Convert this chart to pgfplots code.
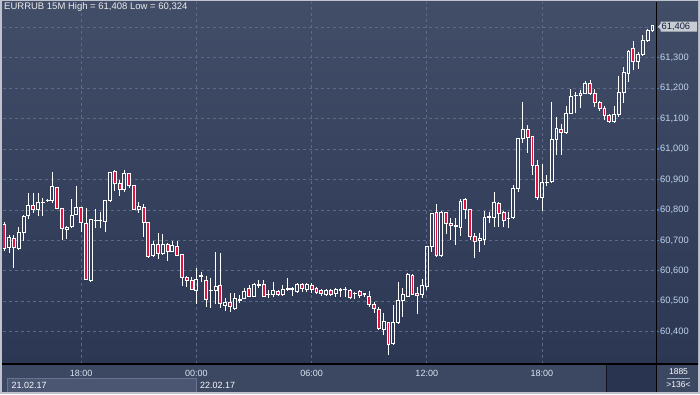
\documentclass[border=0pt]{standalone}
\usepackage{pgfplots}
\pgfplotsset{compat=1.18}
\usepackage{pgfplotstable}
\usepackage{fontspec}
\setmainfont{Liberation Sans}
\definecolor{framegray}{RGB}{190,195,205}
\definecolor{plottop}{RGB}{66,78,104}
\definecolor{plotbot}{RGB}{43,55,83}
\definecolor{stripbg}{RGB}{60,72,98}
\definecolor{datebox}{RGB}{74,86,114}
\definecolor{dateborder}{RGB}{105,116,140}
\definecolor{darkbox}{RGB}{40,52,80}
\definecolor{gridc}{RGB}{92,106,134}
\definecolor{labelc}{RGB}{195,212,236}
\definecolor{tickblue}{RGB}{60,130,210}
\definecolor{candlered}{RGB}{225,20,65}
\definecolor{pricebox}{RGB}{200,205,212}
\definecolor{pricetext}{RGB}{20,30,60}

\pgfplotstableread{
i o h l c
0 60753 60760 60665 60674
1 60677 60718 60660 60710
2 60706 60717 60608 60677
3 60674 60745 60668 60727
4 60727 60783 60699 60780
5 60783 60857 60769 60815
6 60815 60855 60791 60802
7 60802 60855 60780 60824
8 60825 60840 60780 60826
9 60830 60835 60825 60831
10 60830 60923 60822 60877
11 60874 60876 60802 60805
12 60805 60805 60701 60740
13 60736 60748 60705 60743
14 60745 60835 60740 60783
15 60786 60879 60786 60808
16 60808 60811 60729 60759
17 60756 60808 60573 60573
18 60570 60771 60562 60769
19 60765 60802 60740 60766
20 60765 60794 60740 60766
21 60761 60833 60729 60830
22 60830 60926 60827 60922
23 60925 60931 60863 60887
24 60887 60898 60847 60868
25 60868 60931 60860 60920
26 60920 60920 60871 60880
27 60882 60882 60800 60802
28 60802 60825 60791 60813
29 60807 60818 60712 60759
30 60759 60759 60643 60646
31 60650 60698 60646 60687
32 60687 60723 60638 60657
33 60657 60721 60651 60687
34 60687 60690 60633 60665
35 60665 60698 60663 60684
36 60681 60698 60650 60650
37 60654 60654 60550 60579
38 60579 60583 60546 60570
39 60570 60581 60538 60538
40 60535 60610 60490 60573
41 60583 60597 60564 60584
42 60570 60583 60482 60506
43 60535 60575 60477 60536
44 60535 60663 60491 60550
45 60551 60657 60478 60493
46 60485 60510 60469 60495
47 60496 60526 60466 60482
48 60477 60526 60471 60510
49 60504 60521 60493 60505
50 60510 60543 60506 60532
51 60543 60553 60513 60517
52 60517 60559 60513 60557
53 60553 60570 60543 60554
54 60557 60570 60517 60517
55 60521 60537 60512 60522
56 60521 60562 60513 60535
57 60532 60537 60517 60521
58 60523 60553 60518 60540
59 60540 60575 60535 60541
60 60540 60548 60517 60541
61 60532 60561 60526 60557
62 60557 60559 60532 60543
63 60539 60561 60532 60557
64 60551 60559 60526 60540
65 60543 60546 60523 60529
66 60535 60539 60517 60526
67 60524 60539 60517 60537
68 60535 60539 60517 60524
69 60526 60542 60513 60539
70 60537 60542 60515 60538
71 60539 60546 60515 60540
72 60537 60539 60507 60513
73 60526 60532 60507 60527
74 60532 60537 60510 60518
75 60524 60528 60515 60525
76 60517 60535 60482 60491
77 60491 60499 60463 60477
78 60474 60482 60406 60411
79 60409 60463 60389 60435
80 60431 60431 60324 60360
81 60362 60488 60356 60431
82 60431 60563 60425 60504
83 60504 60545 60449 60521
84 60517 60592 60513 60588
85 60586 60588 60521 60523
86 60526 60548 60458 60520
87 60523 60574 60510 60552
88 60548 60682 60537 60679
89 60679 60791 60663 60789
90 60792 60820 60644 60650
91 60650 60795 60645 60791
92 60791 60791 60721 60756
93 60756 60775 60701 60750
94 60747 60775 60685 60748
95 60743 60835 60714 60829
96 60833 60838 60770 60803
97 60803 60803 60701 60712
98 60714 60723 60643 60698
99 60699 60725 60663 60707
100 60703 60797 60685 60776
101 60777 60794 60756 60778
102 60776 60859 60743 60825
103 60822 60825 60745 60789
104 60791 60797 60745 60767
105 60772 60794 60740 60773
106 60775 60882 60772 60871
107 60871 61035 60860 61035
108 61035 61156 61019 61066
109 61066 61079 60986 61038
110 61043 61043 60915 60947
111 60947 60964 60833 60840
112 60840 60951 60798 60890
113 60891 60915 60880 60892
114 60893 61156 60890 61032
115 61032 61106 60981 61068
116 61065 61081 60981 61055
117 61055 61141 61048 61117
118 61117 61197 61115 61174
119 61175 61189 61117 61176
120 61175 61194 61134 61183
121 61183 61224 61180 61216
122 61216 61227 61178 61183
123 61183 61196 61139 61154
124 61154 61158 61126 61134
125 61134 61141 61095 61110
126 61110 61114 61085 61090
127 61090 61141 61085 61114
128 61114 61240 61106 61186
129 61186 61271 61150 61251
130 61249 61325 61221 61322
131 61329 61356 61260 61287
132 61289 61320 61263 61311
133 61311 61373 61304 61358
134 61358 61393 61353 61391
135 61391 61408 61383 61406
}\candles

\begin{document}
\begin{tikzpicture}[x=1pt,y=1pt]
\useasboundingbox (0,0) rectangle (700,394);
% frame and panels
\fill[framegray] (0,0) rectangle (700,394);
\shade[top color=plottop, bottom color=plotbot] (2,30) rectangle (698,392);
\fill[stripbg] (2,2) rectangle (698,30);
\fill[datebox] (7.3,2) rectangle (196.4,16);
\draw[dateborder, line width=0.8pt] (7.3,2) -- (7.3,16) -- (196.4,16) -- (196.4,2);
\fill[darkbox] (606.7,2) rectangle (656.7,30);
\draw[black!60!darkbox, line width=1pt] (606.7,2) -- (606.7,30);

\begin{axis}[
  at={(3pt,30pt)}, anchor=south west,
  scale only axis, width=653.7pt, height=362pt,
  xmin=-0.27, xmax=135.9, ymin=60294, ymax=61483,
  enlargelimits=false,
  ybar stacked, bar width=0.6,
  axis line style={draw=none},
  xtick={16,40,64,88,112},
  xticklabels={18:00,00:00,06:00,12:00,18:00},
  xtick style={draw=none},
  xticklabel style={anchor=base, yshift=-12.3pt, font=\fontsize{9}{10}\selectfont, text=labelc!60!white},
  ytick={60400,60500,...,61400},
  yticklabel pos=right,
  ytick pos=right,
  tick align=inside,
  major tick length=2.5pt,
  ytick style={tickblue, line width=1.2pt, xshift=2.5pt},
  yticklabel style={anchor=west, font=\fontsize{9.3}{10}\selectfont, text=labelc,
    /pgf/number format/fixed, /pgf/number format/1000 sep={,},
    /pgf/number format/assume math mode=true},
  scaled y ticks=false,
  xmajorgrids, ymajorgrids,
  grid style={gridc, dash pattern=on 3pt off 3pt, line width=0.7pt},
  clip=true,
]
% base (invisible) + lower wick
\addplot[draw=none, fill=none, error bars/.cd, y dir=minus, y explicit,
  error bar style={white, line width=0.8pt}, error mark=none]
  table[x=i, y expr={min(\thisrow{o},\thisrow{c})}, y error plus expr=0,
        y error minus expr={min(\thisrow{o},\thisrow{c})-\thisrow{l}}]{\candles};
% bullish bodies (hollow)
\addplot[draw=white, fill=none, line width=0.8pt]
  table[x=i, y expr={max(\thisrow{c}-\thisrow{o},0)}]{\candles};
% bearish bodies (red)
\addplot[draw=white, fill=candlered, line width=0.8pt]
  table[x=i, y expr={max(\thisrow{o}-\thisrow{c},0)}]{\candles};
% upper wick
\addplot[draw=none, fill=none, error bars/.cd, y dir=plus, y explicit,
  error bar style={white, line width=0.8pt}, error mark=none]
  table[x=i, y expr=0, y error minus expr=0,
        y error plus expr={\thisrow{h}-max(\thisrow{o},\thisrow{c})}]{\candles};
\end{axis}

% separators
\draw[black, line width=1.2pt] (2,30) -- (698,30);
\draw[black, line width=1.2pt] (656.7,2) -- (656.7,392);
% title
\node[anchor=west, inner sep=0, text=white!92!black, font=\fontsize{9.5}{10}\selectfont] at (4,387) {EURRUB 15M High = 61,408 Low = 60,324};
% price box
\fill[pricebox] (658,367.3) -- (660.7,370.3) -- (660.7,372.3) -- (697,372.3) -- (697,362.3) -- (660.7,362.3) -- (660.7,364.3) -- cycle;
\node[anchor=west, inner sep=0, text=pricetext, font=\fontsize{9.3}{10}\selectfont] at (661.5,367.3) {61,406};
% dates
\node[anchor=base west, inner sep=0, text=white!90!labelc, font=\fontsize{9}{10}\selectfont] at (11.5,5.8) {21.02.17};
\node[anchor=base west, inner sep=0, text=white!90!labelc, font=\fontsize{9}{10}\selectfont] at (200,5.8) {22.02.17};
% corner counters
\node[inner sep=0, text=white!90!labelc, font=\fontsize{8.5}{10}\selectfont] at (678.5,22.3) {1885};
\draw[labelc!70!stripbg, line width=0.6pt] (667,15.7) -- (690,15.7);
\node[inner sep=0, text=white!90!labelc, font=\fontsize{8.5}{10}\selectfont] at (678.5,9.5) {>136<};
\end{tikzpicture}
\end{document}
